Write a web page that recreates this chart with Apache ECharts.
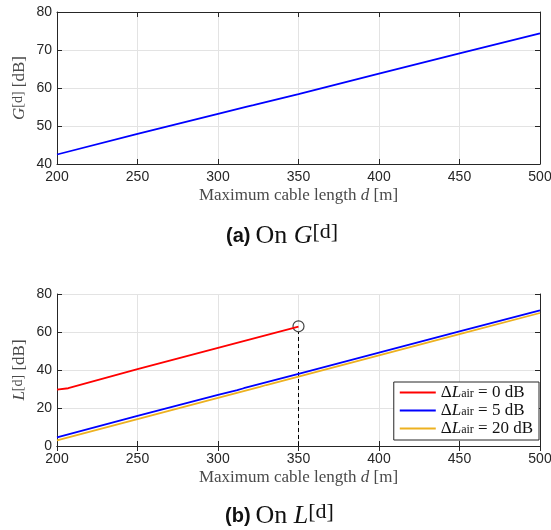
<!DOCTYPE html>
<html>
<head>
<meta charset="utf-8">
<script src="https://cdn.jsdelivr.net/npm/echarts@6/dist/echarts.min.js"></script>
<style>html,body{margin:0;padding:0;background:#fff}#c{width:551px;height:530px}</style>
</head>
<body>
<div id="c"></div>
<script>
// ---- data ----
const xTicks = [200, 250, 300, 350, 400, 450, 500];
// (a) G^[d] vs d
const gD   = [200, 250, 300, 318, 322, 350, 400, 450, 500];
const gVal = [42.5, 47.9, 53.2, 55.1, 55.5, 58.4, 63.8, 69.1, 74.4];
// (b) L^[d] vs d
const redD   = [200, 207, 250, 300, 350];
const redVal = [29.7, 30.4, 40.4, 51.6, 62.8];
const blueD   = [200, 250, 300, 312, 316, 350, 400, 450, 500];
const blueVal = [4.5, 15.8, 26.9, 29.4, 30.4, 37.9, 49.1, 60.3, 71.4];
const orangeD   = [200, 250, 300, 326, 330, 350, 400, 450, 500];
const orangeVal = [3.0, 14.2, 25.3, 31.1, 32.1, 36.5, 47.7, 58.9, 70.0];
const markD = 350, markVal = 63;
const seriesNames = ['ΔL_air = 0 dB', 'ΔL_air = 5 dB', 'ΔL_air = 20 dB'];
const legendRich = {
  'ΔL_air = 0 dB':  '{t|Δ}{i|L}{sub|air}{t| = 0 dB}',
  'ΔL_air = 5 dB':  '{t|Δ}{i|L}{sub|air}{t| = 5 dB}',
  'ΔL_air = 20 dB': '{t|Δ}{i|L}{sub|air}{t| = 20 dB}'
};

const zip = (a, b) => a.map((v, i) => [v, b[i]]);
const SERIF = '"Liberation Serif", "DejaVu Serif", serif';
const SANS = '"Liberation Sans", Arial, sans-serif';
const AX = '#262626';

function mainX(gi, name) {
  return {
    type: 'value', gridIndex: gi, min: 200, max: 500, interval: 50,
    axisLine: {show: true, lineStyle: {color: AX, width: 1}},
    axisTick: {show: true, inside: true, length: 5, lineStyle: {color: AX}},
    axisLabel: {color: AX, fontFamily: SANS, fontSize: 14, margin: 6},
    splitLine: {show: true, lineStyle: {color: '#e3e3e3', width: 1}},
    name: name, nameLocation: 'middle', nameGap: 23, nameMoveOverlap: false,
    nameTextStyle: {
      color: '#4a4a4a', fontFamily: SERIF, fontSize: 17,
      rich: {
        t: {fontFamily: SERIF, fontSize: 17, color: '#4a4a4a'},
        i: {fontFamily: SERIF, fontSize: 17, fontStyle: 'italic', color: '#4a4a4a'}
      }
    }
  };
}
function topX(gi) {
  return {
    type: 'value', gridIndex: gi, position: 'top', min: 200, max: 500, interval: 50,
    axisLine: {show: true, lineStyle: {color: AX, width: 1}},
    axisTick: {show: true, inside: true, length: 5, lineStyle: {color: AX}},
    axisLabel: {show: false}, splitLine: {show: false}
  };
}
function mainY(gi, min, max, interval, name) {
  return {
    type: 'value', gridIndex: gi, min: min, max: max, interval: interval,
    axisLine: {show: true, lineStyle: {color: AX, width: 1}},
    axisTick: {show: true, inside: true, length: 5, lineStyle: {color: AX}},
    axisLabel: {color: AX, fontFamily: SANS, fontSize: 14, margin: 5},
    splitLine: {show: true, lineStyle: {color: '#e3e3e3', width: 1}},
    name: name, nameLocation: 'middle', nameGap: 28, nameRotate: 90, nameMoveOverlap: false,
    nameTextStyle: {
      color: '#4a4a4a', fontFamily: SERIF, fontSize: 17,
      rich: {
        t: {fontFamily: SERIF, fontSize: 17, color: '#4a4a4a', lineHeight: 18},
        i: {fontFamily: SERIF, fontSize: 17, fontStyle: 'italic', color: '#4a4a4a', lineHeight: 18},
        s: {fontFamily: SERIF, fontSize: 14, color: '#4a4a4a', verticalAlign: 'top', lineHeight: 13}
      }
    }
  };
}
function rightY(gi, min, max, interval) {
  return {
    type: 'value', gridIndex: gi, position: 'right', min: min, max: max, interval: interval,
    axisLine: {show: true, lineStyle: {color: AX, width: 1}},
    axisTick: {show: true, inside: true, length: 5, lineStyle: {color: AX}},
    axisLabel: {show: false}, splitLine: {show: false}
  };
}

const capRich = {
  b: {fontFamily: SANS, fontWeight: 'bold', fontSize: 20, color: '#111'},
  r: {fontFamily: SERIF, fontWeight: 'normal', fontSize: 26, color: '#111', lineHeight: 30},
  i: {fontFamily: SERIF, fontWeight: 'normal', fontSize: 26, fontStyle: 'italic', color: '#111', lineHeight: 30},
  s: {fontFamily: SERIF, fontWeight: 'normal', fontSize: 22, color: '#111', verticalAlign: 'top', lineHeight: 18}
};

const chart = echarts.init(document.getElementById('c'), null, {renderer: 'canvas'});
chart.setOption({
  animation: false,
  backgroundColor: '#fff',
  title: [
    {text: '{b|(a)} {r|On }{i|G}{s|[d]}', left: 226, top: 221, padding: 0, textStyle: {fontWeight: 'normal', rich: capRich}},
    {text: '{b|(b)} {r|On }{i|L}{s|[d]}', left: 225, top: 501, padding: 0, textStyle: {fontWeight: 'normal', rich: capRich}}
  ],
  grid: [
    {left: 57, right: 11, top: 12, height: 152, outerBoundsMode: 'none', containLabel: false},
    {left: 57, right: 11, top: 294, height: 152, outerBoundsMode: 'none', containLabel: false}
  ],
  xAxis: [
    mainX(0, 'Maximum cable length {i|d} [m]'), topX(0),
    mainX(1, 'Maximum cable length {i|d} [m]'), topX(1)
  ],
  yAxis: [
    mainY(0, 40, 80, 10, '{i|G}{s|[d]}{t| [dB]}'), rightY(0, 40, 80, 10),
    mainY(1, 0, 80, 20, '{i|L}{s|[d]}{t| [dB]}'), rightY(1, 0, 80, 20)
  ],
  legend: {
    data: seriesNames.map(n => ({name: n, icon: 'rect'})),
    orient: 'vertical', right: 12, top: 382,
    backgroundColor: '#fff', borderColor: '#262626', borderWidth: 1, borderRadius: 0,
    padding: [2, 6, 3, 6], itemGap: 1, itemWidth: 36, itemHeight: 2,
    formatter: n => legendRich[n],
    textStyle: {
      fontFamily: SERIF, fontSize: 17, color: '#111',
      rich: {
        t: {fontFamily: SERIF, fontSize: 17, color: '#111', lineHeight: 15},
        i: {fontFamily: SERIF, fontSize: 17, fontStyle: 'italic', color: '#111', lineHeight: 15},
        sub: {fontFamily: SERIF, fontSize: 12, color: '#111', verticalAlign: 'bottom', lineHeight: 9}
      }
    }
  },
  series: [
    {name: 'G', type: 'line', xAxisIndex: 0, yAxisIndex: 0, data: zip(gD, gVal),
     symbol: 'none', lineStyle: {color: '#0000ff', width: 1.8}, itemStyle: {color: '#0000ff'}},
    {name: seriesNames[0], type: 'line', xAxisIndex: 2, yAxisIndex: 2, data: zip(redD, redVal),
     symbol: 'none', lineStyle: {color: '#ff0000', width: 1.8}, itemStyle: {color: '#ff0000'}},
    {name: seriesNames[1], type: 'line', xAxisIndex: 2, yAxisIndex: 2, data: zip(blueD, blueVal),
     symbol: 'none', lineStyle: {color: '#0000ff', width: 1.8}, itemStyle: {color: '#0000ff'}},
    {name: seriesNames[2], type: 'line', xAxisIndex: 2, yAxisIndex: 2, data: zip(orangeD, orangeVal),
     symbol: 'none', lineStyle: {color: '#edb120', width: 1.8}, itemStyle: {color: '#edb120'}},
    {name: 'drop', type: 'line', xAxisIndex: 2, yAxisIndex: 2, data: [[markD, 0], [markD, markVal - 3]],
     symbol: 'none', lineStyle: {color: '#000', width: 1, type: [4, 3]}, z: 1},
    {name: 'mark', type: 'scatter', xAxisIndex: 2, yAxisIndex: 2, data: [[markD, markVal]],
     symbol: 'circle', symbolSize: 11,
     itemStyle: {color: 'rgba(0,0,0,0)', borderColor: '#111', borderWidth: 1.2}}
  ]
});
</script>
</body>
</html>
